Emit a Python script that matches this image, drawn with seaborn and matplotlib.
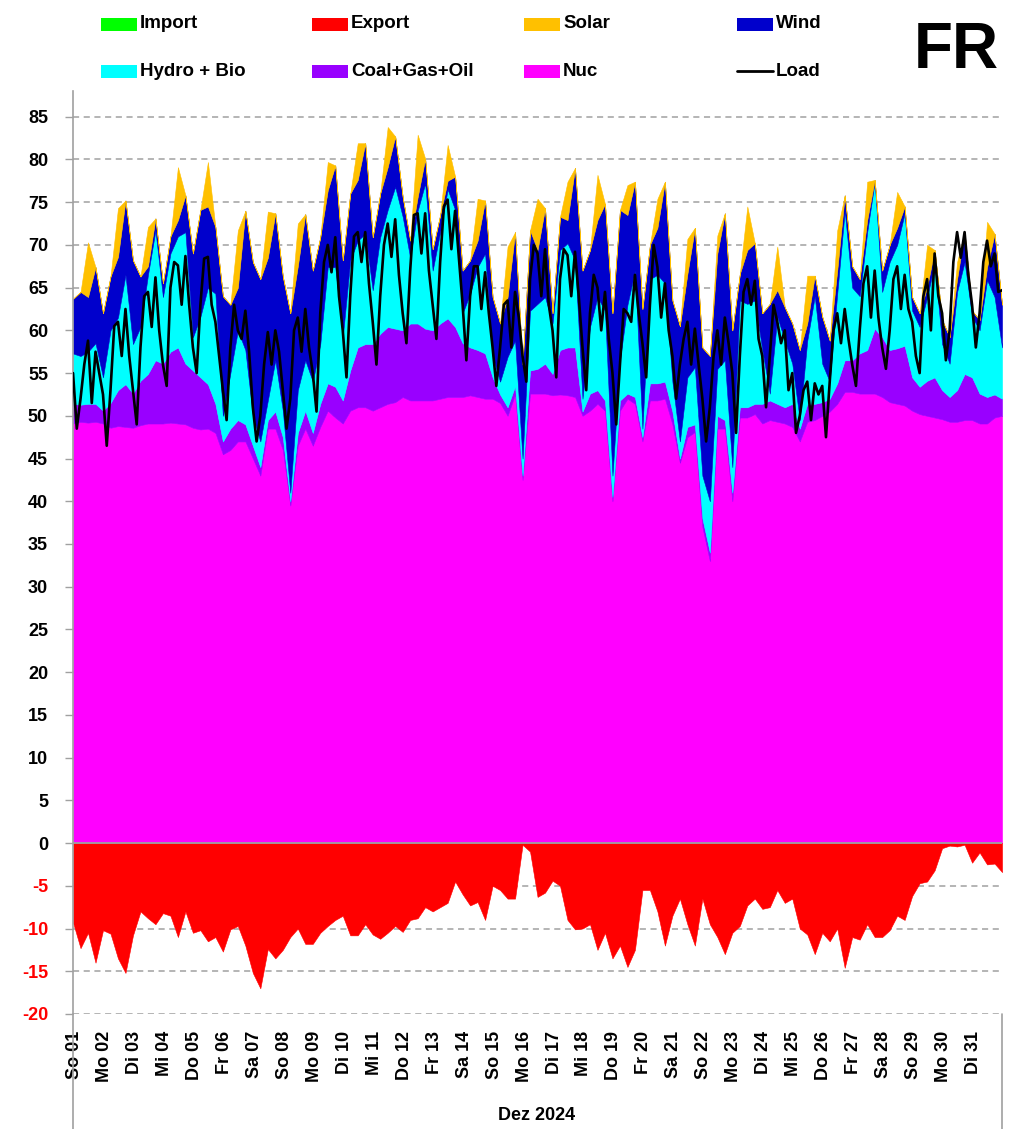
import numpy as np
import matplotlib
matplotlib.use("Agg")
import seaborn as sns
from matplotlib import pyplot as plt
from matplotlib.patches import Rectangle
from matplotlib.lines import Line2D

# --- data, France, Dez 2024, GW ---------------------------------------
# stack values every 6 h (00, 06, 12, 18 h), last value = 01.01. 00 h
nuc = [49.1, 49.3, 49.2, 49.3,  49.1, 48.6, 48.8, 48.7,  48.6, 48.9, 49.1, 49.1,
       49.1, 49.2, 49.1, 49.0,  48.6, 48.4, 48.5, 48.0,  45.5, 46.0, 47.0, 47.0,
       45.0, 43.0, 48.5, 48.5,  46.0, 39.5, 46.5, 48.5,  46.5, 48.7, 50.6, 49.8,
       49.1, 50.6, 51.0, 51.0,  50.6, 51.0, 51.4, 51.6,  52.2, 51.8, 51.8, 51.8,
       51.8, 52.0, 52.2, 52.2,  52.2, 52.4, 52.2, 52.0,  52.0, 51.5, 50.0, 52.5,
       42.5, 52.6, 52.6, 52.6,  52.4, 52.5, 52.4, 52.2,  50.0, 50.6, 51.4, 50.6,
       40.0, 50.6, 52.0, 51.4,  47.0, 51.8, 51.8, 52.0,  49.0, 44.5, 47.5, 48.1,
       37.0, 33.0, 48.5, 48.5,  40.0, 49.8, 49.8, 50.2,  49.1, 49.5, 49.3, 49.1,
       48.7, 47.0, 49.3, 49.5,  50.0, 50.5, 51.4, 52.8,  52.8, 52.6, 52.6, 52.6,
       52.2, 51.6, 51.4, 51.2,  50.6, 50.2, 50.0, 49.8,  49.6, 49.3, 49.3, 49.5,
       49.5, 49.1, 49.1, 49.8,  50.0]

fossil = [2.3, 2.0, 2.2, 2.1,  1.5, 2.9, 4.2, 5.0,  4.0, 5.2, 5.8, 7.4,
          7.0, 8.3, 8.9, 7.1,  6.7, 6.1, 5.2, 3.4,  1.5, 2.5, 2.5, 2.0,
          1.5, 1.0, 1.0, 2.0,  1.5, 0.5, 1.5, 2.1,  1.5, 2.7, 3.2, 3.6,
          2.7, 4.7, 7.0, 7.4,  7.8, 8.6, 9.0, 8.6,  7.8, 9.0, 9.0, 8.4,
          8.2, 8.8, 9.2, 8.2,  6.3, 5.6, 5.5, 5.3,  2.5, 1.0, 1.0, 1.0,
          0.5, 2.7, 2.9, 3.5,  2.5, 5.2, 5.6, 5.8,  0.5, 2.0, 1.6, 1.2,
          0.5, 1.2, 0.6, 0.8,  0.5, 2.0, 2.0, 2.0,  1.5, 0.5, 1.2, 0.9,
          1.0, 1.0, 1.5, 1.0,  1.0, 1.2, 1.2, 1.2,  2.3, 2.3, 2.1, 1.9,
          2.7, 1.5, 2.1, 1.9,  1.6, 1.5, 2.4, 3.7,  3.7, 4.7, 5.1, 7.6,
          7.0, 6.1, 6.5, 7.0,  3.9, 3.2, 4.1, 4.7,  3.4, 2.9, 3.7, 5.4,
          5.0, 3.5, 3.1, 2.7,  2.0]

hydro_bio = [5.9, 5.7, 6.1, 7.1,  3.9, 8.5, 8.5, 12.8,  5.8, 6.3, 11.6, 15.2,
             7.8, 11.5, 13.0, 15.4,  3.9, 7.1, 11.3, 12.9,  3.0, 6.5, 10.5, 8.7,
             3.5, 3.0, 2.3, 6.0,  3.1, 1.0, 5.0, 5.9,  6.0, 7.0, 13.6, 14.0,
             7.4, 12.9, 12.5, 12.9,  6.3, 11.3, 13.7, 16.6,  13.3, 7.7, 13.2, 17.0,
             7.0, 10.7, 15.1, 13.7,  3.5, 6.3, 9.7, 11.7,  2.5, 1.5, 5.9, 5.3,
             2.0, 7.0, 7.6, 7.8,  5.9, 11.7, 12.2, 10.2,  1.5, 7.8, 10.9, 10.5,
             2.5, 4.7, 10.4, 14.8,  1.0, 12.2, 12.7, 11.5,  3.5, 2.0, 5.8, 6.7,
             5.0, 6.0, 5.5, 7.0,  3.0, 12.5, 12.1, 12.1,  6.3, 0.8, 10.2, 7.8,
             4.7, 1.0, 7.4, 12.6,  4.5, 2.0, 10.5, 17.5,  8.5, 6.7, 13.8, 17.2,
             5.3, 10.3, 12.1, 15.5,  7.8, 7.0, 9.8, 13.3,  5.4, 3.9, 11.5, 13.1,
             7.1, 7.4, 13.7, 11.4,  6.0]

wind = [6.4, 7.5, 6.4, 8.9,  7.5, 6.3, 7.1, 8.7,  9.8, 5.9, 1.0, 1.4,
        1.6, 2.0, 1.9, 4.3,  9.8, 12.5, 9.5, 7.8,  14.0, 8.0, 5.0, 16.3,
        18.0, 19.0, 16.7, 17.2,  15.7, 21.0, 14.5, 17.1,  13.0, 12.5, 9.0, 11.9,
        9.0, 7.8, 7.1, 10.6,  6.2, 5.1, 5.0, 5.9,  2.3, 2.0, 1.6, 2.9,
        2.5, 2.0, 1.0, 3.9,  5.0, 3.9, 3.1, 6.2,  6.9, 6.8, 7.0, 12.7,
        11.0, 9.4, 6.3, 10.4,  1.2, 3.9, 2.7, 10.8,  15.0, 9.0, 9.0, 12.5,
        19.0, 17.6, 10.5, 10.4,  14.0, 4.0, 5.5, 11.9,  9.5, 13.5, 12.1, 16.3,
        15.0, 17.0, 13.5, 17.2,  16.0, 3.1, 6.3, 6.7,  4.3, 10.5, 3.1, 3.9,
        4.7, 8.2, 2.0, 2.4,  5.5, 4.8, 2.7, 1.8,  2.5, 2.0, 1.4, 0.2,
        2.5, 2.0, 2.0, 0.8,  1.6, 1.6, 1.2, 1.6,  2.8, 3.1, 1.5, 3.5,
        0.7, 1.2, 1.5, 7.4,  5.0]

# solar at 12 h of each day (zero at 00, 06 and 18 h)
solar_noon = [6.4, 5.7, 4.6, 6.2, 5.2, 6.7, 5.4, 5.0, 3.3, 4.3, 4.7, 7.3, 4.2, 4.9, 5.9, 6.0,
              4.5, 5.3, 3.5, 3.4, 4.1, 2.1, 5.1, 5.1, 5.6, 4.7, 4.5, 4.2, 4.9, 2.0, 5.3]

export = [-9.3, -12.3, -10.5, -14.0,  -10.2, -10.6, -13.5, -15.2,  -10.8, -8.0, -8.8, -9.5,
          -8.2, -8.5, -11.0, -8.0,  -10.5, -10.2, -11.5, -11.0,  -12.7, -10.1, -9.7, -12.0,
          -15.2, -17.0, -12.4, -13.5,  -12.5, -11.0, -10.0, -11.8,  -11.8, -10.5, -9.7, -9.0,
          -8.5, -10.8, -10.8, -9.5,  -10.7, -11.2, -10.5, -9.7,  -10.4, -9.0, -8.8, -7.5,
          -8.0, -7.5, -7.0, -4.5,  -6.0, -7.3, -6.9, -9.0,  -5.0, -5.5, -6.5, -6.5,
          -0.2, -1.0, -6.3, -5.8,  -4.4, -5.0, -9.0, -10.1,  -10.0, -9.5, -12.5, -10.5,
          -13.5, -12.0, -14.5, -12.5,  -5.5, -5.5, -8.0, -12.0,  -8.5, -6.5, -9.5, -12.0,
          -6.5, -9.5, -11.0, -13.0,  -10.5, -9.7, -7.3, -6.5,  -7.7, -7.5, -5.5, -7.0,
          -6.5, -10.0, -10.7, -13.0,  -10.5, -11.5, -10.0, -14.6,  -11.0, -11.3, -9.5, -11.0,
          -11.0, -10.2, -8.5, -9.0,  -6.2, -4.7, -4.5, -3.2,  -0.6, -0.3, -0.4, -0.2,
          -2.3, -1.1, -2.5, -2.4,  -3.4]

# load every 3 h
load = [55, 48.5, 52, 56, 58.8, 51.5, 57.5, 55,
        52.5, 46.5, 53, 60.5, 61, 57, 62.5, 57,
        53, 49, 58, 64, 64.5, 60.4, 66.2, 60,
        56, 53.5, 65, 68, 67.6, 63, 68.7, 63,
        58, 55, 63, 68.4, 68.6, 63, 61, 57,
        53, 49.5, 58, 63, 60, 59, 62.3, 57.5,
        51, 47, 50, 56, 59.8, 56, 60, 57.5,
        53, 48.5, 52, 60, 61.5, 57.5, 62.5, 58,
        55, 50.5, 62, 68, 70, 66.8, 70.9, 64,
        60, 54.5, 64, 71, 71.5, 68, 71.5, 65.5,
        61, 56, 64, 70, 72.5, 68.6, 73, 66.5,
        62, 58.5, 67, 73.5, 73.7, 69, 73.7, 67,
        63, 59, 68, 74.5, 75.3, 69.5, 74, 68.5,
        63, 56.5, 64, 67.5, 67.5, 62.5, 66.8, 62,
        58, 53.5, 58, 63, 63.5, 58, 64.5, 61.5,
        57, 54, 66, 70, 69, 64, 69.5, 63,
        60, 54.5, 66, 69.5, 68.8, 64, 69.2, 64,
        58, 53, 62, 66.5, 65, 60, 64.5, 59,
        55, 49, 56, 62.5, 62, 61, 66.5, 62,
        58.5, 54.5, 63, 70, 67.4, 61.5, 65.5, 60,
        57, 52, 56, 59, 61, 56, 60.2, 56,
        52, 47, 51, 57, 60, 56, 61.5, 58.5,
        55, 48, 57, 64.5, 66, 63, 65.8, 59,
        57, 51, 57, 63, 61, 58.5, 60, 53,
        55, 48, 50, 53, 54, 49.5, 53.8, 52.5,
        53.5, 47.5, 54, 60, 62, 58.5, 62.5, 59,
        56, 53.5, 60, 65.5, 67.5, 61.5, 67, 61.5,
        58, 55.5, 60, 66, 67.5, 62.5, 66.5, 62.5,
        61, 57, 55, 64, 66, 60, 69, 64,
        62, 56.5, 60, 68, 71.5, 68.5, 71.5, 66.5,
        63, 58, 62, 68, 70.5, 67.5, 69, 64.5,
        64.7]

day_labels = ["So 01", "Mo 02", "Di 03", "Mi 04", "Do 05", "Fr 06", "Sa 07", "So 08",
              "Mo 09", "Di 10", "Mi 11", "Do 12", "Fr 13", "Sa 14", "So 15", "Mo 16",
              "Di 17", "Mi 18", "Do 19", "Fr 20", "Sa 21", "So 22", "Mo 23", "Di 24",
              "Mi 25", "Do 26", "Fr 27", "Sa 28", "So 29", "Mo 30", "Di 31"]
y_ticks = list(range(-20, 90, 5))

colors = {"Import": "#00FF00", "Export": "#FF0000", "Solar": "#FFC000", "Wind": "#0000CC",
          "Hydro + Bio": "#00FFFF", "Coal+Gas+Oil": "#9900FF", "Nuc": "#FF00FF"}

# --- plot ------------------------------------------------------------
sns.set_style("white")
plt.rcParams["font.family"] = ["Liberation Sans Narrow", "Liberation Sans", "DejaVu Sans"]
plt.rcParams["font.weight"] = "bold"
plt.rcParams["text.color"] = "black"
plt.rcParams["xtick.color"] = "black"
plt.rcParams["ytick.color"] = "black"

t6 = np.arange(len(nuc)) / 4.0
t3 = np.arange(len(load)) / 8.0
solar = np.zeros(len(nuc))
solar[2:len(solar) - 1:4] = solar_noon

fig = plt.figure(figsize=(10.2, 11.29), dpi=100)
ax = fig.add_axes([0.0716, 0.1019, 0.9108, 0.8174])

layers = [(nuc, "Nuc"), (fossil, "Coal+Gas+Oil"), (hydro_bio, "Hydro + Bio"),
          (wind, "Wind"), (solar, "Solar")]
base = np.zeros(len(nuc))
for vals, name in layers:
    top = base + np.asarray(vals)
    ax.fill_between(t6, base, top, color=colors[name], lw=0.4, edgecolor=colors[name], zorder=2)
    base = top
ax.fill_between(t6, export, 0, color=colors["Export"], lw=0.4, edgecolor=colors["Export"], zorder=2)

sns.lineplot(x=t3, y=load, color="black", lw=1.9, ax=ax, zorder=4)
ax.axhline(0, color="#A0A0A0", lw=1.3, zorder=3)

ax.set_xlim(0, 31)
ax.set_ylim(-20, 88)
ax.set_yticks(y_ticks)
ax.set_yticklabels([str(v) for v in y_ticks], fontsize=13, fontweight="bold")
for lab, v in zip(ax.get_yticklabels(), y_ticks):
    lab.set_color("#FF0000" if v < 0 else "black")
ax.tick_params(axis="y", length=6, width=1, color="#A0A0A0", pad=12, left=True)
ax.set_xticks(np.arange(31) + 0.05)
ax.set_xticklabels(day_labels, rotation=90, fontsize=13, fontweight="bold")
ax.tick_params(axis="x", length=0, pad=12)
ax.yaxis.grid(True, color="#A0A0A0", lw=1.1, linestyle=(0, (4, 3)), zorder=0)
ax.set_axisbelow(True)
ax.set_xlabel("")
ax.set_ylabel("")
for s in ["top", "right", "bottom"]:
    ax.spines[s].set_visible(False)
ax.spines["left"].set_color("#A0A0A0")
ax.spines["left"].set_linewidth(1.2)

# category box below the plot
fig.add_artist(Line2D([0.0716, 0.0716], [0, 0.1019], color="#A0A0A0", lw=1.2))
fig.add_artist(Line2D([0.9824, 0.9824], [0, 0.1019], color="#A0A0A0", lw=1.2))
fig.text(0.526, 0.012, "Dez 2024", ha="center", va="center", fontsize=13, fontweight="bold")

# legend drawn by hand, two rows of four
W, H = 1020.0, 1129.0
legend_rows = [["Import", "Export", "Solar", "Wind"],
               ["Hydro + Bio", "Coal+Gas+Oil", "Nuc", "Load"]]
col_x = [101, 312, 524, 737]
row_y = [24, 71]
for r, row in enumerate(legend_rows):
    for c, name in enumerate(row):
        x0 = col_x[c] / W
        yc = 1 - row_y[r] / H
        if name == "Load":
            fig.add_artist(Line2D([x0, x0 + 36 / W], [yc, yc], color="black", lw=2))
        else:
            fig.add_artist(Rectangle((x0, yc - 6.5 / H), 36 / W, 13 / H,
                                     transform=fig.transFigure, color=colors[name], lw=0))
        fig.text(x0 + 39 / W, yc, name, ha="left", va="center", fontsize=13.5, fontweight="bold")

fig.text(0.979, 0.955, "FR", ha="right", va="center", fontsize=46, fontweight="bold", color="black")

fig.savefig("out.png", dpi=100)
